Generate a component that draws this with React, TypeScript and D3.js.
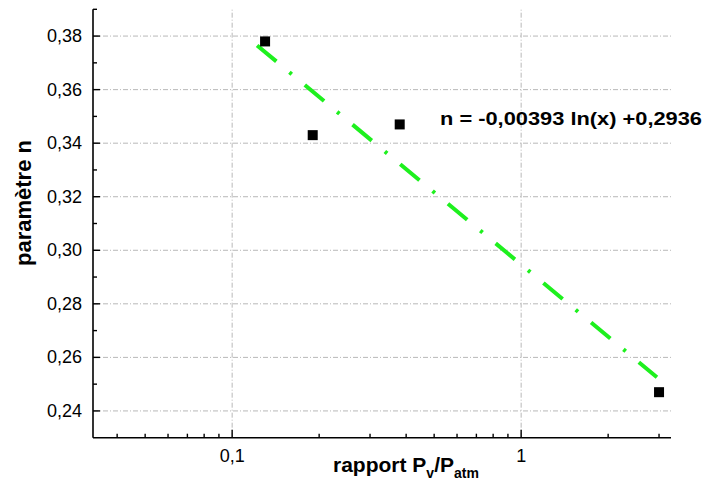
import React from "react";
import * as d3 from "d3";

const ratioValues = [0.13, 0.19, 0.38, 3.0];
const nValues = [0.378, 0.343, 0.347, 0.247];
const fitRatio = [0.122, 2.95];
const fitN = [0.3765, 0.2526];
const yMajorTicks = [0.24, 0.26, 0.28, 0.3, 0.32, 0.34, 0.36, 0.38];
const yMinorTicks = [0.25, 0.27, 0.29, 0.31, 0.33, 0.35, 0.37, 0.39];
const xMajorTicks = [0.1, 1];
const xTickLabels = ["0,1", "1"];
const xMinorTicks = [0.04, 0.05, 0.06, 0.07, 0.08, 0.09, 0.2, 0.3, 0.4, 0.5, 0.6, 0.7, 0.8, 0.9, 2, 3];
const equationText = "n = -0,00393 ln(x) +0,2936";

const FONT = "'Liberation Sans', Arial, Helvetica, sans-serif";
const fmtY = (v: number) => v.toFixed(2).replace(".", ",");

export default function App() {
  const x = d3.scaleLog().domain([0.033, 3.3]).range([93, 671]);
  const y = d3.scaleLinear().domain([0.23, 0.39]).range([437.7, 9.3]);
  const left = 93;
  const bottom = 437.7;
  const line = d3
    .line<number>()
    .x((_, i) => x(fitRatio[i]))
    .y((d) => y(d));
  const grid = "#b8b8b8";
  return (
    <svg
      width={704}
      height={495}
      style={{ position: "absolute", left: 0, top: 0, background: "#fff" }}
      fontFamily={FONT}
    >
      {yMajorTicks.map((t) => (
        <line key={"gy" + t} x1={left} x2={671} y1={y(t)} y2={y(t)} stroke={grid} strokeWidth={1} strokeDasharray="5 2 1 2" />
      ))}
      {xMajorTicks.map((t) => (
        <line key={"gx" + t} x1={x(t)} x2={x(t)} y1={bottom} y2={9.3} stroke={grid} strokeWidth={1} strokeDasharray="5 2 1 2" />
      ))}
      <path d={line(fitN) || ""} fill="none" stroke="#1ef01e" strokeWidth={4} strokeDasharray="25 17 3 17" />
      {ratioValues.map((r, i) => (
        <rect key={"m" + i} x={x(r) - 5} y={y(nValues[i]) - 5} width={10} height={10} fill="#000" />
      ))}
      <line x1={left} x2={left} y1={9.3} y2={bottom} stroke="#000" strokeWidth={1.6} />
      <line x1={left} x2={671} y1={bottom} y2={bottom} stroke="#000" strokeWidth={1.6} />
      {yMajorTicks.map((t) => (
        <g key={"yt" + t}>
          <line x1={left} x2={left + 7} y1={y(t)} y2={y(t)} stroke="#000" strokeWidth={1.4} />
          <text x={82} y={y(t) + 6} textAnchor="end" fontSize={18} fill="#000">
            {fmtY(t)}
          </text>
        </g>
      ))}
      {yMinorTicks.map((t) => (
        <line key={"ym" + t} x1={left} x2={left + 4} y1={y(t)} y2={y(t)} stroke="#000" strokeWidth={1.4} />
      ))}
      {xMajorTicks.map((t, i) => (
        <g key={"xt" + t}>
          <line x1={x(t)} x2={x(t)} y1={bottom} y2={bottom - 8} stroke="#000" strokeWidth={1.4} />
          <text x={x(t)} y={462} textAnchor="middle" fontSize={18} fill="#000">
            {xTickLabels[i]}
          </text>
        </g>
      ))}
      {xMinorTicks.map((t) => (
        <line key={"xm" + t} x1={x(t)} x2={x(t)} y1={bottom} y2={bottom - 4} stroke="#000" strokeWidth={1.4} />
      ))}
      <text x={333} y={472} fontSize={21} fontWeight="bold" fill="#000">
        rapport P
        <tspan fontSize={14} dy={6}>v</tspan>
        <tspan fontSize={21} dy={-6}>/P</tspan>
        <tspan fontSize={14} dy={6}>atm</tspan>
      </text>
      <text transform="translate(31,203) rotate(-90)" textAnchor="middle" fontSize={22} fontWeight="bold" fill="#000">
        paramètre n
      </text>
      <text x={440} y={125} fontSize={19} fontWeight="bold" fill="#000" textLength={262} lengthAdjust="spacingAndGlyphs">
        {equationText}
      </text>
    </svg>
  );
}
